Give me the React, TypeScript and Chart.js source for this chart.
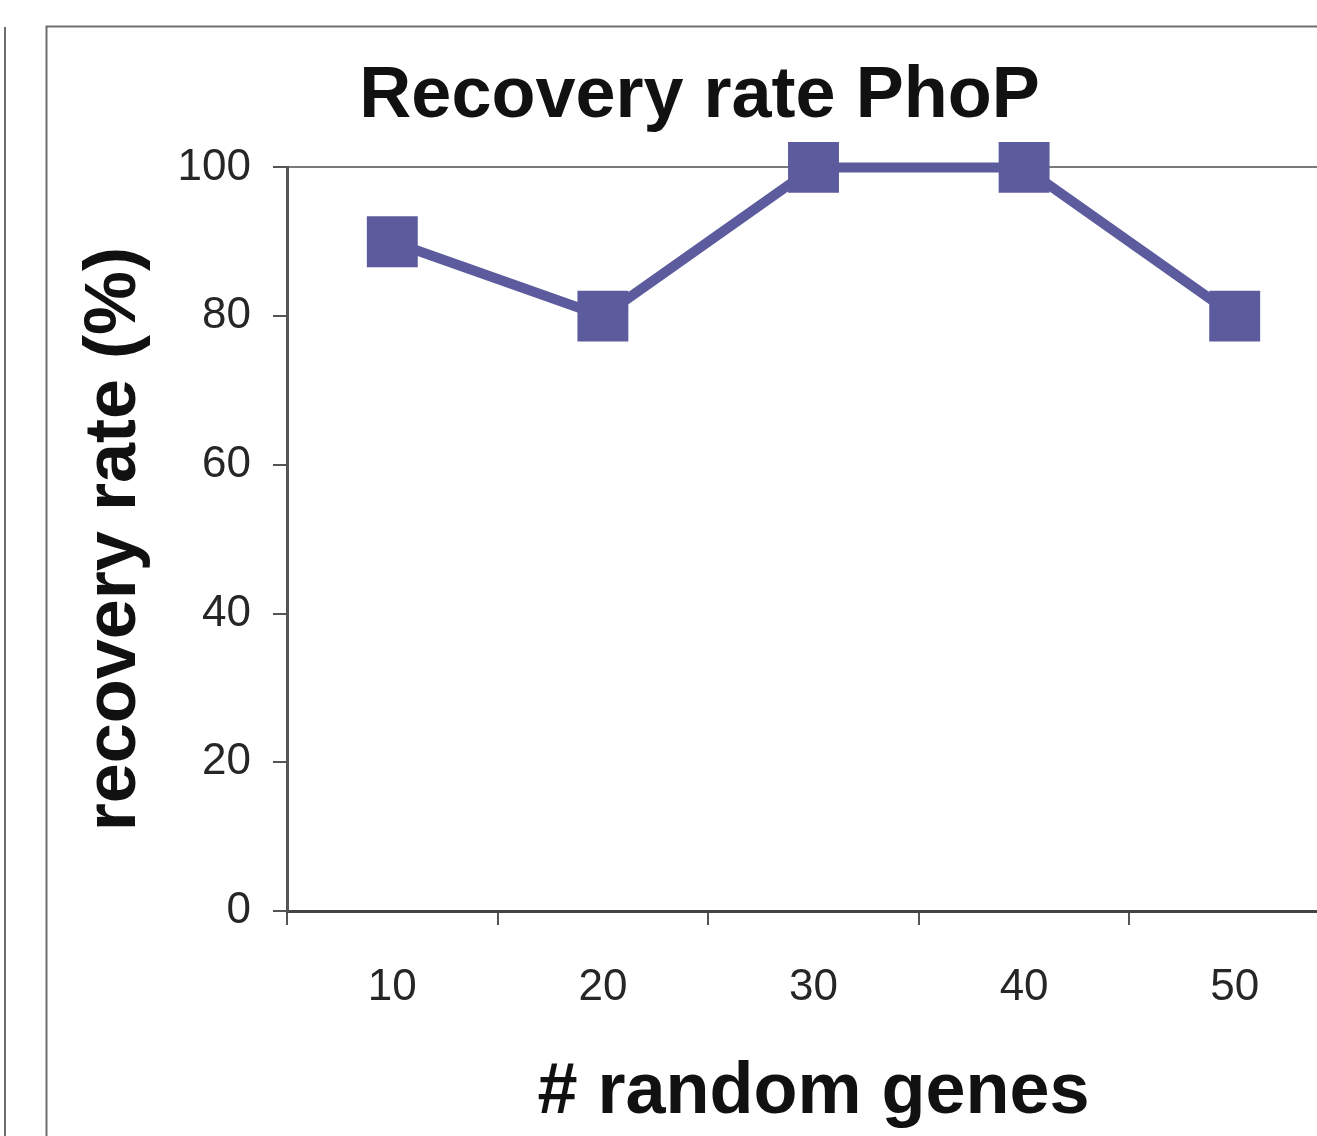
import React, { useEffect, useRef } from "react";
import { Chart, registerables } from "chart.js";

Chart.register(...registerables);

// Number of random genes added to the PhoP target set
const geneCounts = ["10", "20", "30", "40", "50"];
// Recovery rate (%) for each setting
const recoveryRates = [90, 80, 100, 100, 80];
// Y axis range and tick step
const yMin = 0;
const yMax = 100;
const yStep = 20;

const chartTitle = "Recovery rate PhoP";
const yAxisTitle = "recovery rate (%)";
const xAxisTitle = "# random genes";

const FONT = "'Liberation Sans', Arial, Helvetica, sans-serif";
const SERIES_COLOR = "#5b5b9e";

// Thin figure-panel frames surrounding the chart
const panelFrame = {
  id: "panelFrame",
  beforeDraw(chart: Chart) {
    const { ctx, width, height } = chart;
    ctx.save();
    ctx.fillStyle = "#ffffff";
    ctx.fillRect(0, 0, width, height);
    ctx.strokeStyle = "#6e6e6e";
    ctx.lineWidth = 2;
    ctx.beginPath();
    // neighbouring panel edge
    ctx.moveTo(5, 27);
    ctx.lineTo(5, height);
    // this panel's frame
    ctx.moveTo(46.5, height);
    ctx.lineTo(46.5, 26.5);
    ctx.lineTo(width, 26.5);
    ctx.stroke();
    ctx.restore();
  },
};

export default function App() {
  const canvasRef = useRef<HTMLCanvasElement | null>(null);

  useEffect(() => {
    const canvas = canvasRef.current;
    if (!canvas) return;
    const chart = new Chart(canvas, {
      type: "line",
      data: {
        labels: geneCounts,
        datasets: [
          {
            data: recoveryRates,
            borderColor: SERIES_COLOR,
            backgroundColor: SERIES_COLOR,
            borderWidth: 10,
            pointStyle: "rect",
            pointRadius: 36,
            pointHoverRadius: 36,
            pointBorderWidth: 0,
            pointBackgroundColor: SERIES_COLOR,
            tension: 0,
            clip: false,
          },
        ],
      },
      options: {
        responsive: false,
        animation: false,
        events: [],
        layout: { padding: { left: 59, right: 60, top: 0, bottom: 0 } },
        plugins: {
          legend: { display: false },
          tooltip: { enabled: false },
          title: {
            display: true,
            text: chartTitle,
            color: "#111111",
            font: { family: FONT, size: 72, weight: "bold", lineHeight: 1.2 },
            padding: { top: 54, bottom: 27 },
          },
        },
        scales: {
          x: {
            type: "category",
            offset: true,
            afterFit(scale: any) {
              scale.height = 225;
            },
            grid: {
              offset: true,
              drawOnChartArea: false,
              drawTicks: true,
              tickLength: 14,
              tickColor: "#555555",
              tickWidth: 2,
              lineWidth: 2,
            },
            border: { display: true, color: "#444444", width: 3 },
            ticks: {
              color: "#262626",
              padding: 36,
              font: { family: FONT, size: 44 },
            },
            title: {
              display: true,
              text: xAxisTitle,
              color: "#111111",
              font: { family: FONT, size: 72, weight: "bold", lineHeight: 1.2 },
              padding: { top: 0, bottom: 0 },
            },
          },
          y: {
            min: yMin,
            max: yMax,
            afterFit(scale: any) {
              scale.width = 228;
            },
            grid: {
              drawOnChartArea: true,
              color: (ctx: any) =>
                ctx.tick && ctx.tick.value === yMax ? "#7a7a7a" : "rgba(0,0,0,0)",
              lineWidth: 2,
              drawTicks: true,
              tickLength: 14,
              tickColor: "#555555",
              tickWidth: 2,
            },
            border: { display: true, color: "#555555", width: 3 },
            ticks: {
              stepSize: yStep,
              color: "#262626",
              padding: 22,
              font: { family: FONT, size: 44 },
            },
            title: {
              display: true,
              text: yAxisTitle,
              color: "#111111",
              font: { family: FONT, size: 72, weight: "bold", lineHeight: 1.2 },
              padding: { top: 13, bottom: 0 },
            },
          },
        },
      },
      plugins: [panelFrame],
    });
    return () => chart.destroy();
  }, []);

  return (
    <div
      style={{
        position: "fixed",
        left: 0,
        top: 0,
        width: 1317,
        height: 1136,
        overflow: "hidden",
        background: "#ffffff",
      }}
    >
      <canvas ref={canvasRef} width={1400} height={1136} style={{ display: "block" }} />
    </div>
  );
}
